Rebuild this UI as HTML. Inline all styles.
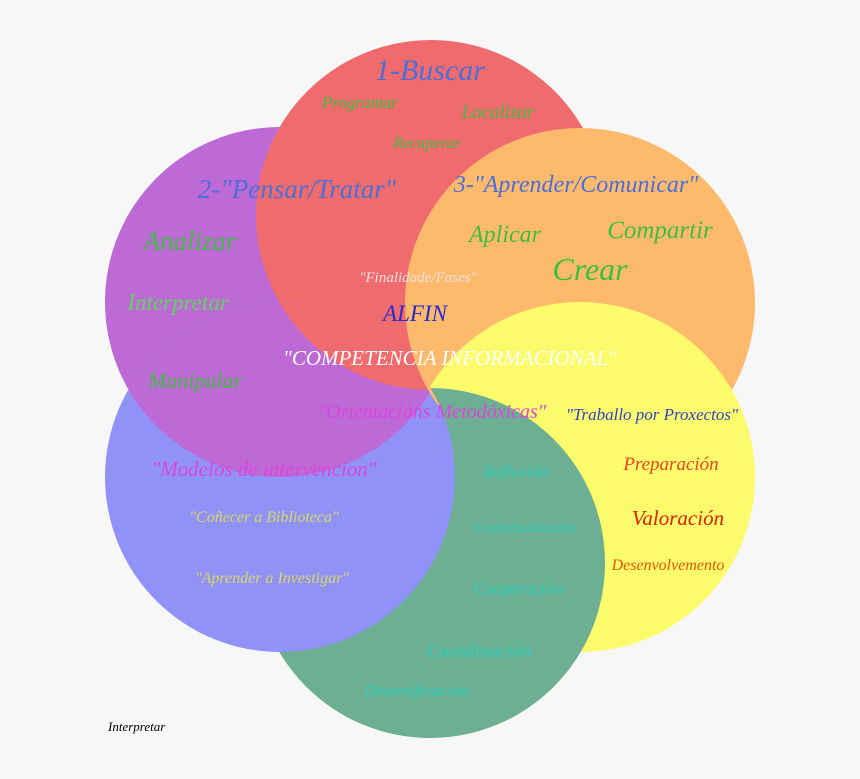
<!DOCTYPE html>
<html><head><meta charset="utf-8"><style>
html,body{margin:0;padding:0;background:#f7f7f7;}
svg{display:block}
text{font-family:"Liberation Serif",serif;font-style:italic;}
</style></head><body>
<svg width="860" height="779" viewBox="0 0 860 779">
<defs><clipPath id="cb"><circle cx="280" cy="477" r="175"/></clipPath></defs>
<rect width="860" height="779" fill="#f7f7f7"/>
<circle cx="280" cy="302" r="175" fill="#bd69d6"/>
<circle cx="431" cy="215" r="175" fill="#f06b6e"/>
<circle cx="580" cy="303" r="175" fill="#fdb96c"/>
<circle cx="580" cy="477" r="175" fill="#fbfb6b"/>
<circle cx="430" cy="563" r="175" fill="#6caf93"/>
<circle cx="280" cy="477" r="175" fill="#9092f8"/>
<g clip-path="url(#cb)">
<circle cx="280" cy="302" r="175" fill="#bd69d6"/>
<circle cx="431" cy="215" r="175" fill="#f06b6e"/>
<circle cx="580" cy="303" r="175" fill="#fdb96c"/>
</g>

<text x="430" y="80" font-size="30" fill="#4a6fd8" text-anchor="middle">1-Buscar</text>
<text x="360" y="108" font-size="17" fill="#3cbf3c" text-anchor="middle">Programar</text>
<text x="498" y="118" font-size="19" fill="#3cbf3c" text-anchor="middle">Localizar</text>
<text x="427" y="148" font-size="16" fill="#3cbf3c" text-anchor="middle">Recuperar</text>
<text x="297" y="198" font-size="27" fill="#4a6fd8" text-anchor="middle">2-"Pensar/Tratar"</text>
<text x="576" y="192" font-size="24" fill="#4a6fd8" text-anchor="middle">3-"Aprender/Comunicar"</text>
<text x="190" y="250" font-size="27" fill="#3cbf3c" text-anchor="middle" font-style="normal">Analizar</text>
<text x="505" y="242" font-size="24" fill="#3cbf3c" text-anchor="middle" font-style="normal">Aplicar</text>
<text x="660" y="238" font-size="25" fill="#3cbf3c" text-anchor="middle" font-style="normal">Compartir</text>
<text x="590" y="280" font-size="32" fill="#3cbf3c" text-anchor="middle" font-style="normal">Crear</text>
<text x="418" y="282" font-size="15" fill="#f4e0e0" text-anchor="middle">"Finalidade/Fases"</text>
<text x="178" y="310" font-size="23" fill="#5ed65e" text-anchor="middle" font-style="normal">Interpretar</text>
<text x="415" y="321" font-size="23" fill="#2a2acc" text-anchor="middle" font-style="normal">ALFIN</text>
<text x="450" y="365" font-size="21" fill="#ffffff" text-anchor="middle">"COMPETENCIA INFORMACIONAL"</text>
<text x="195" y="388" font-size="22" fill="#3cbf3c" text-anchor="middle">Manipular</text>
<text x="432" y="418" font-size="20" fill="#dd44dd" text-anchor="middle">"Orientacións Metodóxicas"</text>
<text x="652" y="420" font-size="17" fill="#3344cc" text-anchor="middle">"Traballo por Proxectos"</text>
<text x="264" y="476" font-size="21" fill="#dd44dd" text-anchor="middle">"Modelos de intervencion"</text>
<text x="516" y="477" font-size="17" fill="#2ad0b8" text-anchor="middle">Reflexión</text>
<text x="671" y="470" font-size="19" fill="#ee4422" text-anchor="middle">Preparación</text>
<text x="264" y="522" font-size="16" fill="#d8d860" text-anchor="middle">"Coñecer a Biblioteca"</text>
<text x="525" y="532" font-size="14" fill="#2ad0b8" text-anchor="middle">Contextualización</text>
<text x="678" y="525" font-size="21" fill="#dd2200" text-anchor="middle">Valoración</text>
<text x="668" y="570" font-size="16" fill="#ee5500" text-anchor="middle">Desenvolvemento</text>
<text x="272" y="583" font-size="16" fill="#d8d860" text-anchor="middle">"Aprender a Investigar"</text>
<text x="518" y="594" font-size="17" fill="#2ad0b8" text-anchor="middle">Cooperación</text>
<text x="479" y="657" font-size="19" fill="#2ad0b8" text-anchor="middle">Coordinación</text>
<text x="417" y="696" font-size="17" fill="#2ad0b8" text-anchor="middle">Diversificación</text>
<text x="108" y="731" font-size="13" fill="#000" font-style="normal">Interpretar</text>
</svg>
</body></html>
